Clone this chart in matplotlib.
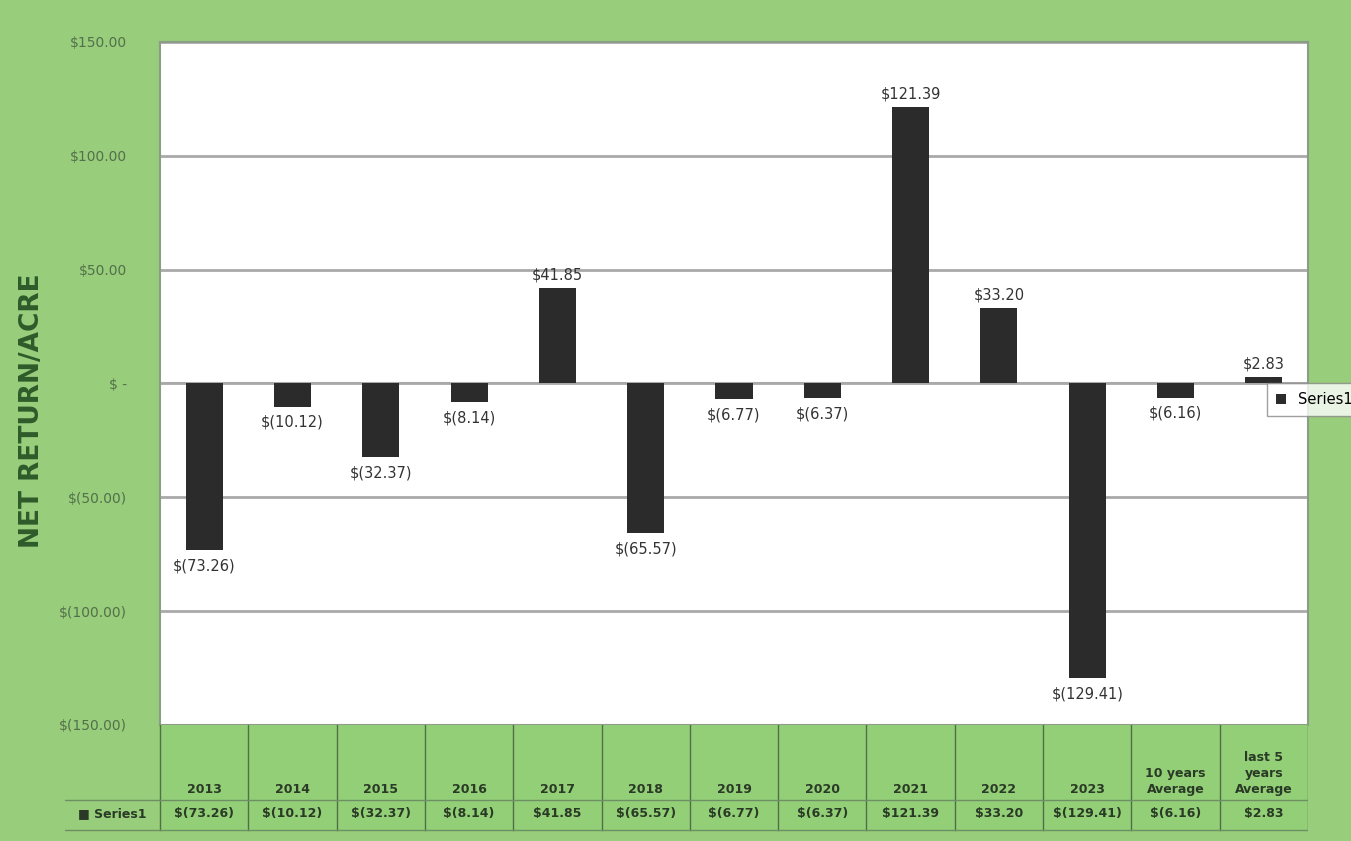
import matplotlib
matplotlib.use('Agg')
from matplotlib import pyplot as plt
from matplotlib.ticker import FuncFormatter

# data
categories = ['2013', '2014', '2015', '2016', '2017', '2018', '2019', '2020',
              '2021', '2022', '2023', '10 years\nAverage', 'last 5\nyears\nAverage']
values = [-73.26, -10.12, -32.37, -8.14, 41.85, -65.57, -6.77, -6.37,
          121.39, 33.20, -129.41, -6.16, 2.83]
series_name = 'Series1'
yticks = [-150, -100, -50, 0, 50, 100, 150]


def money(v):
    if abs(v) < 1e-9:
        return '$ -'
    if v < 0:
        return '$({:,.2f})'.format(-v)
    return '${:,.2f}'.format(v)


W, H = 1351, 841
fig = plt.figure(figsize=(W / 100, H / 100), dpi=100)
fig.patch.set_facecolor('#97cd7b')

# main plot area
ax = fig.add_axes([160 / W, (H - 725) / H, 1148 / W, 683 / H])
ax.set_facecolor('white')
x = list(range(len(values)))
bars = ax.bar(x, values, width=0.42, color='#2b2b2b', zorder=3)
ax.set_xlim(-0.5, len(values) - 0.5)
ax.set_ylim(-150, 150)
ax.set_yticks(yticks)
ax.yaxis.set_major_formatter(FuncFormatter(lambda v, p: money(v)))
ax.tick_params(axis='y', length=0, pad=24, labelsize=10, labelcolor='#54704a')
ax.set_xticks([])
ax.grid(axis='y', color='#a9a9a9', linewidth=2, zorder=0)
ax.axhline(0, color='#b5b5b5', linewidth=1.5, zorder=1)
for s in ax.spines.values():
    s.set_color('#8c9c86')
    s.set_linewidth(1.5)
ax.set_ylabel('NET RETURN/ACRE', fontsize=19, fontweight='bold',
              color='#2f5a2a')
ax.yaxis.set_label_coords(-115 / 1148, 0.46)

for b, v in zip(bars, values):
    cx = b.get_x() + b.get_width() / 2
    if v >= 0:
        ax.annotate(money(v), (cx, v), xytext=(0, 4), textcoords='offset points',
                    ha='center', va='bottom', fontsize=10.5, color='#333333')
    else:
        ax.annotate(money(v), (cx, v), xytext=(0, -6), textcoords='offset points',
                    ha='center', va='top', fontsize=10.5, color='#333333')

# data table underneath
unit = 1148 / len(values)
left_extra = 95 / unit
ax_t = fig.add_axes([65 / W, (H - 832) / H, (1308 - 65) / W, 107 / H])
ax_t.set_xlim(-0.5 - left_extra, len(values) - 0.5)
ax_t.set_ylim(0, 1)
ax_t.axis('off')
ax_t.axhspan(0, 1, xmin=left_extra / (left_extra + len(values)), color='#93cf77')
split = 0.30
for i in range(len(values) + 1):
    ax_t.plot([i - 0.5, i - 0.5], [0.02, 1], color='#4f6f45', lw=1)
ax_t.plot([-0.5, len(values) - 0.5], [split, split], color='#6e8f63', lw=1)
ax_t.plot([-0.5 - left_extra, len(values) - 0.5], [0.02, 0.02], color='#6e8f63', lw=1)
ax_t.plot([-0.5 - left_extra, -0.5], [split, split], color='#6e8f63', lw=1)
for i, (c, v) in enumerate(zip(categories, values)):
    ax_t.text(i, split + 0.04, c, ha='center', va='bottom', fontsize=9,
              fontweight='bold', color='#2a3a26', linespacing=1.3)
    ax_t.text(i, split / 2 + 0.02, money(v), ha='center', va='center',
              fontsize=9, fontweight='bold', color='#2a3a26')
ax_t.text(-0.5 - left_extra / 2, split / 2 + 0.02, '\u25a0 ' + series_name,
          ha='center', va='center', fontsize=9, fontweight='bold', color='#2a3a26')

# legend box, cut off at the right edge as in the original
leg = fig.legend([bars], [series_name], loc='upper left',
                 bbox_to_anchor=(1260 / W, (H - 376) / H), frameon=True,
                 fontsize=10.5, handlelength=0.7, handleheight=0.7,
                 borderpad=0.6, fancybox=False)
leg.get_frame().set_edgecolor('#888888')

fig.savefig('out.png', dpi=100, facecolor=fig.get_facecolor())
